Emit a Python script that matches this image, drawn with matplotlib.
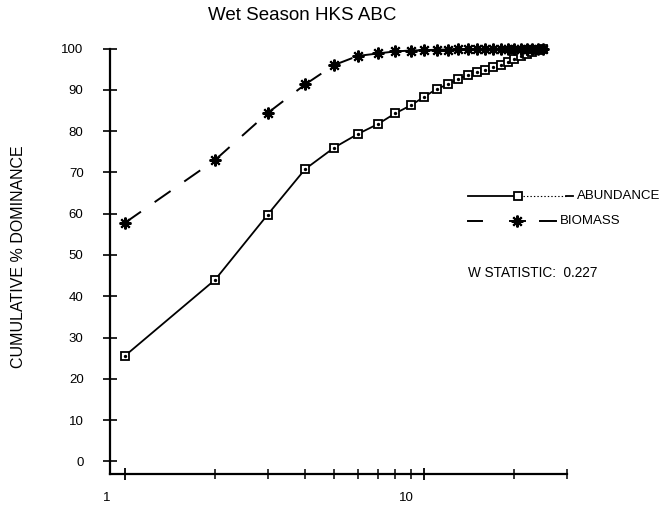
import matplotlib
matplotlib.use("Agg")
import matplotlib.pyplot as plt
from matplotlib.lines import Line2D
from matplotlib.ticker import NullFormatter
from matplotlib.transforms import Affine2D, ScaledTranslation, blended_transform_factory

plt.rcParams['font.family'] = ['Liberation Sans', 'DejaVu Sans']
plt.rcParams['lines.scale_dashes'] = False

# ---------------- data ----------------
title = "Wet Season HKS ABC"
ylabel = "CUMULATIVE % DOMINANCE"
species_rank = list(range(1, 26))
abundance = [25.6, 44.0, 59.8, 70.8, 76.0, 79.3, 81.7, 84.3, 86.2, 88.3,
             90.2, 91.3, 92.7, 93.5, 94.3, 94.9, 95.5, 96.1, 96.8, 97.5,
             98.1, 98.7, 99.2, 99.6, 100.0]
biomass = [57.8, 73.0, 84.4, 91.3, 96.0, 98.2, 98.8, 99.3, 99.5, 99.6,
           99.7, 99.75, 99.8, 99.85, 99.88, 99.9, 99.92, 99.94, 99.95, 99.96,
           99.97, 99.98, 99.99, 99.995, 100.0]
yticks = list(range(0, 101, 10))
xmajor = [1, 10]
xmajor_labels = ["1", "10"]
xminor = [2, 3, 4, 5, 6, 7, 8, 9, 20, 30]
legend_labels = ["ABUNDANCE", "BIOMASS"]
w_stat = "W STATISTIC:  0.227"

# ---------------- figure ----------------
W, H = 667, 509
fig = plt.figure(figsize=(W / 100, H / 100), dpi=100)
ax = fig.add_axes([110 / W, (H - 474) / H, (567 - 110) / W, (474 - 40) / H])
ax.set_xscale('log')
ax.set_xlim(0.891, 30)
ax.set_ylim(-3.03, 102.06)
ax.patch.set_visible(False)

for s in ('top', 'right'):
    ax.spines[s].set_visible(False)
ax.spines['left'].set_bounds(-3.03, 100)
ax.spines['left'].set_linewidth(1.6)
ax.spines['bottom'].set_linewidth(1.6)

ax.set_yticks(yticks)
ax.set_yticklabels([str(v) for v in yticks])
ax.tick_params(axis='y', direction='inout', length=10, width=1.2, pad=14,
               labelsize=9.5)

ax.set_xticks(xmajor)
ax.set_xticklabels([])
ax.set_xticks(xminor, minor=True)
ax.xaxis.set_minor_formatter(NullFormatter())
ax.tick_params(axis='x', which='major', direction='inout', length=9, width=1.3)
ax.tick_params(axis='x', which='minor', direction='inout', length=7, width=1.1)

xlab_tr = blended_transform_factory(ax.transData, ax.transAxes) + \
    ScaledTranslation(-18 / 100, 0, fig.dpi_scale_trans)
for v, s in zip(xmajor, xmajor_labels):
    ax.text(v, -0.055, s, transform=xlab_tr, ha='center', va='center',
            fontsize=9.5)

# abundance curve
ax.plot(species_rank, abundance, '-', color='black', lw=1.3, marker='s',
        ms=5.8, mfc='white', mec='black', mew=1.3, clip_on=False)
ax.plot(species_rank, abundance, ls='none', marker='o', ms=1.4,
        color='black', clip_on=False)

# biomass curve (dash pattern restarts at every point)
for i in range(len(species_rank) - 1):
    ax.plot(species_rank[i:i + 2], biomass[i:i + 2], color='black', lw=1.4,
            dashes=(14, 12), dash_capstyle='butt', clip_on=False)
ax.plot(species_rank, biomass, ls='none', marker=(8, 2, 0), ms=8.5,
        mec='black', mew=1.5, clip_on=False)

# ---------------- texts & legend (pixel coords, origin top-left) -------------
px = Affine2D().scale(1 / W, -1 / H).translate(0, 1) + fig.transFigure

fig.text(302 / W, 1 - 15 / H, title, ha='center', va='center', fontsize=13.5)
fig.text(19 / W, 1 - 257 / H, ylabel, ha='center', va='center',
         rotation=90, fontsize=11.5)

# ABUNDANCE legend entry
fig.add_artist(Line2D([468, 513], [196, 196], transform=px, color='black', lw=1.3))
fig.add_artist(Line2D([523, 566], [196, 196], transform=px, color='black',
                      lw=0.8, ls=(0, (1, 1.5))))
fig.add_artist(Line2D([566, 573], [196, 196], transform=px, color='black', lw=1.3))
fig.add_artist(Line2D([518], [196], transform=px, ls='none', marker='s', ms=5.8,
                      mfc='white', mec='black', mew=1.3))
fig.text(577 / W, 1 - 196 / H, legend_labels[0], ha='left', va='center',
         fontsize=9.5)

# BIOMASS legend entry
fig.add_artist(Line2D([468, 482], [221, 221], transform=px, color='black', lw=1.4))
fig.add_artist(Line2D([510, 525], [221, 221], transform=px, color='black', lw=1.4))
fig.add_artist(Line2D([540, 556], [221, 221], transform=px, color='black', lw=1.4))
fig.add_artist(Line2D([517], [221], transform=px, ls='none', marker=(8, 2, 0),
                      ms=8.5, mec='black', mew=1.5))
fig.text(560 / W, 1 - 221 / H, legend_labels[1], ha='left', va='center',
         fontsize=9.5)

fig.text(468 / W, 1 - 273 / H, w_stat, ha='left', va='center', fontsize=9.8)

fig.savefig("out.png", dpi=100)
